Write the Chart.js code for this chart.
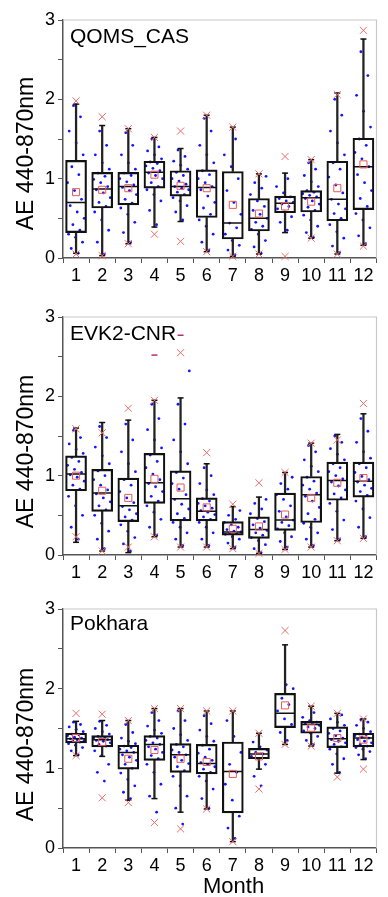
<!DOCTYPE html>
<html>
<head>
<meta charset="utf-8">
<script src="https://cdn.jsdelivr.net/npm/chart.js@4.4.1/dist/chart.umd.min.js"></script>
<style>
  body { margin: 0; background: #fff; font-family: 'Liberation Sans', Arial, sans-serif; }
  #wrap { position: relative; width: 388px; height: 897px; overflow: hidden; }
  canvas { position: absolute; left: 0; }
  .name { position: absolute; left: 70px; font-size: 21px; line-height: 1; color: #000; }
  .ytitle { position: absolute; width: 220px; left: -85px; height: 23px; font-size: 23px; line-height: 1;
            text-align: center; transform: rotate(-90deg); color: #000; }
  .xtitle { position: absolute; left: 203px; top: 875px; font-size: 22px; line-height: 1; color: #000; }
</style>
</head>
<body>
<div id="wrap">
  <canvas id="qoms" width="388" height="290" style="top:0px"></canvas>
  <canvas id="evk" width="388" height="290" style="top:297px"></canvas>
  <canvas id="pok" width="388" height="290" style="top:589px"></canvas>
  <div class="name" style="top:25px">QOMS_CAS</div>
  <div class="name" style="top:322px">EVK2-CNR</div>
  <div class="name" style="top:612px">Pokhara</div>
  <div class="ytitle" style="top:142px">AE 440-870nm</div>
  <div class="ytitle" style="top:440px">AE 440-870nm</div>
  <div class="ytitle" style="top:733px">AE 440-870nm</div>
  <div class="xtitle">Month</div>
</div>
<script>
// --- Data ---
const months = [1, 2, 3, 4, 5, 6, 7, 8, 9, 10, 11, 12];

// QOMS_CAS
const qomsLo   = [0.06, 0.03, 0.18, 0.39, 0.46, 0.08, 0.02, 0.05, 0.32, 0.25, 0.05, 0.16];
const qomsQ1   = [0.32, 0.63, 0.67, 0.88, 0.78, 0.51, 0.24, 0.34, 0.57, 0.58, 0.47, 0.61];
const qomsMed  = [0.70, 0.87, 0.90, 1.08, 0.90, 0.89, 0.44, 0.50, 0.69, 0.76, 0.74, 1.15];
const qomsQ3   = [1.23, 1.08, 1.08, 1.22, 1.10, 1.11, 1.09, 0.75, 0.78, 0.85, 1.22, 1.51];
const qomsHi   = [1.94, 1.67, 1.63, 1.52, 1.38, 1.80, 1.65, 1.06, 1.07, 1.24, 2.08, 2.76];
const qomsMean = [0.83, 0.86, 0.88, 1.05, 0.91, 0.88, 0.67, 0.56, 0.65, 0.71, 0.88, 1.18];
const qomsP1   = [0.05, 0.03, 0.18, 0.30, 0.21, 0.08, 0.02, 0.05, 0.02, 0.25, 0.05, 0.15];
const qomsP99  = [1.98, 1.78, 1.63, 1.52, 1.60, 1.80, 1.65, 1.06, 1.28, 1.24, 2.06, 2.87];
const qomsDots = [
  [0.06, 0.12, 0.2, 0.26, 0.3, 0.35, 0.42, 0.5, 0.58, 0.66, 0.74, 0.85, 0.95, 1.05, 1.15, 1.3, 1.45, 1.6, 1.78, 1.92],
  [0.05, 0.2, 0.35, 0.48, 0.58, 0.65, 0.7, 0.76, 0.82, 0.86, 0.9, 0.95, 0.99, 1.03, 1.07, 1.12, 1.2, 1.3, 1.42, 1.6],
  [0.2, 0.32, 0.45, 0.55, 0.63, 0.69, 0.74, 0.8, 0.85, 0.89, 0.92, 0.96, 1.0, 1.04, 1.07, 1.12, 1.2, 1.3, 1.42, 1.58],
  [0.42, 0.6, 0.72, 0.8, 0.86, 0.9, 0.95, 1.0, 1.04, 1.07, 1.1, 1.13, 1.16, 1.19, 1.21, 1.25, 1.3, 1.35, 1.4, 1.5],
  [0.48, 0.58, 0.66, 0.72, 0.76, 0.8, 0.83, 0.86, 0.88, 0.9, 0.93, 0.97, 1.0, 1.04, 1.08, 1.12, 1.17, 1.22, 1.28, 1.36],
  [0.1, 0.2, 0.3, 0.4, 0.48, 0.55, 0.63, 0.7, 0.78, 0.86, 0.9, 0.95, 1.0, 1.05, 1.1, 1.2, 1.3, 1.42, 1.6, 1.76],
  [0.04, 0.1, 0.16, 0.22, 0.3, 0.38, 0.44, 0.55, 0.7, 0.85, 1.0, 1.15, 1.3, 1.5],
  [0.06, 0.14, 0.22, 0.3, 0.36, 0.4, 0.45, 0.5, 0.55, 0.6, 0.65, 0.72, 0.8, 0.88, 0.95, 1.03],
  [0.35, 0.45, 0.52, 0.58, 0.62, 0.65, 0.68, 0.7, 0.72, 0.75, 0.77, 0.82, 0.9, 1.0],
  [0.26, 0.32, 0.4, 0.48, 0.54, 0.6, 0.64, 0.68, 0.72, 0.75, 0.77, 0.79, 0.81, 0.83, 0.85, 0.9, 0.96, 1.04, 1.12, 1.2],
  [0.07, 0.15, 0.25, 0.33, 0.42, 0.5, 0.56, 0.62, 0.68, 0.74, 0.82, 0.92, 1.02, 1.12, 1.2, 1.3, 1.45, 1.6, 1.8, 2.0],
  [0.18, 0.28, 0.38, 0.48, 0.56, 0.65, 0.75, 0.85, 0.95, 1.05, 1.15, 1.25, 1.33, 1.42, 1.5, 1.65, 1.85, 2.05, 2.3, 2.6]
];

// EVK2-CNR
const evkLo   = [0.16, 0.05, 0.03, 0.23, 0.10, 0.10, 0.08, 0.02, 0.07, 0.10, 0.18, 0.21];
const evkQ1   = [0.81, 0.55, 0.42, 0.65, 0.43, 0.43, 0.25, 0.21, 0.31, 0.41, 0.69, 0.73];
const evkMed  = [1.02, 0.78, 0.62, 0.91, 0.71, 0.55, 0.29, 0.32, 0.44, 0.76, 0.94, 0.93];
const evkQ3   = [1.25, 1.08, 0.97, 1.28, 1.06, 0.72, 0.42, 0.48, 0.78, 0.99, 1.17, 1.17];
const evkHi   = [1.60, 1.67, 1.70, 1.95, 1.98, 1.15, 0.61, 0.73, 1.04, 1.41, 1.52, 1.78];
const evkMean = [1.00, 0.81, 0.72, 0.96, 0.85, 0.60, 0.33, 0.36, 0.51, 0.72, 0.91, 0.97];
const evkP1   = [0.23, 0.05, 0.10, 0.23, 0.10, 0.10, 0.08, 0.02, 0.07, 0.10, 0.18, 0.21];
const evkP99  = [1.59, 1.54, 1.85, 1.95, 2.55, 1.29, 0.64, 0.91, 1.04, 1.41, 1.45, 1.91];
const evkMax  = [null, null, null, 2.52, 2.77, null, null, null, null, null, null, null];
const evkDots = [
  [0.2, 0.35, 0.5, 0.62, 0.74, 0.83, 0.88, 0.93, 0.98, 1.01, 1.04, 1.08, 1.13, 1.18, 1.23, 1.28, 1.33, 1.4, 1.48, 1.57],
  [0.08, 0.2, 0.3, 0.4, 0.5, 0.57, 0.62, 0.67, 0.72, 0.77, 0.82, 0.88, 0.95, 1.0, 1.06, 1.15, 1.25, 1.36, 1.48, 1.62],
  [0.05, 0.14, 0.22, 0.3, 0.38, 0.44, 0.48, 0.52, 0.57, 0.61, 0.66, 0.72, 0.8, 0.88, 0.95, 1.05, 1.15, 1.3, 1.45, 1.65],
  [0.25, 0.35, 0.45, 0.54, 0.62, 0.68, 0.74, 0.8, 0.86, 0.9, 0.95, 1.02, 1.1, 1.18, 1.26, 1.35, 1.45, 1.58, 1.72, 1.9],
  [0.12, 0.2, 0.28, 0.35, 0.41, 0.46, 0.52, 0.58, 0.64, 0.7, 0.76, 0.83, 0.9, 0.97, 1.04, 1.15, 1.3, 1.45, 1.65, 1.9, 2.32],
  [0.12, 0.2, 0.28, 0.35, 0.41, 0.45, 0.48, 0.51, 0.54, 0.56, 0.59, 0.62, 0.65, 0.68, 0.71, 0.76, 0.82, 0.9, 1.0, 1.1],
  [0.1, 0.15, 0.2, 0.23, 0.26, 0.27, 0.28, 0.29, 0.3, 0.32, 0.35, 0.38, 0.41, 0.45, 0.5, 0.56],
  [0.03, 0.08, 0.13, 0.18, 0.22, 0.25, 0.28, 0.31, 0.34, 0.38, 0.42, 0.46, 0.52, 0.58, 0.65, 0.7],
  [0.1, 0.17, 0.23, 0.28, 0.33, 0.37, 0.41, 0.44, 0.48, 0.55, 0.62, 0.7, 0.76, 0.83, 0.9, 0.98],
  [0.12, 0.2, 0.28, 0.35, 0.4, 0.45, 0.52, 0.6, 0.68, 0.74, 0.78, 0.83, 0.88, 0.93, 0.98, 1.05, 1.12, 1.2, 1.3, 1.38],
  [0.2, 0.32, 0.44, 0.55, 0.65, 0.72, 0.77, 0.82, 0.87, 0.92, 0.96, 1.0, 1.05, 1.1, 1.15, 1.2, 1.27, 1.34, 1.42, 1.5],
  [0.23, 0.35, 0.47, 0.58, 0.68, 0.75, 0.8, 0.84, 0.88, 0.92, 0.95, 0.99, 1.04, 1.1, 1.15, 1.22, 1.3, 1.42, 1.56, 1.72]
];

// Pokhara
const pokLo   = [1.16, 1.15, 0.60, 0.62, 0.45, 0.49, 0.08, 0.99, 1.30, 1.28, 0.94, 1.11];
const pokQ1   = [1.32, 1.27, 0.99, 1.10, 0.95, 0.93, 0.44, 1.12, 1.51, 1.44, 1.26, 1.27];
const pokMed  = [1.37, 1.36, 1.20, 1.30, 1.17, 1.06, 0.96, 1.18, 1.69, 1.55, 1.37, 1.38];
const pokQ3   = [1.44, 1.41, 1.29, 1.41, 1.31, 1.30, 1.33, 1.25, 1.94, 1.59, 1.52, 1.44];
const pokHi   = [1.59, 1.60, 1.60, 1.75, 1.75, 1.72, 1.72, 1.44, 2.55, 1.78, 1.69, 1.62];
const pokMean = [1.38, 1.33, 1.12, 1.23, 1.12, 1.08, 0.93, 1.15, 1.79, 1.51, 1.38, 1.36];
const pokP1   = [1.16, 0.63, 0.57, 0.32, 0.24, 0.49, 0.08, 0.74, 1.30, 1.28, 0.89, 0.99];
const pokP99  = [1.69, 1.68, 1.60, 1.75, 1.75, 1.72, 1.72, 1.44, 2.73, 1.78, 1.69, 1.62];
const pokDots = [
  [1.17, 1.22, 1.26, 1.29, 1.31, 1.33, 1.34, 1.35, 1.36, 1.37, 1.38, 1.39, 1.41, 1.42, 1.43, 1.46, 1.49, 1.52, 1.55, 1.58],
  [0.84, 0.95, 1.05, 1.16, 1.22, 1.28, 1.3, 1.32, 1.34, 1.35, 1.36, 1.37, 1.38, 1.39, 1.4, 1.43, 1.46, 1.5, 1.54, 1.59],
  [0.62, 0.7, 0.78, 0.86, 0.94, 1.0, 1.05, 1.1, 1.14, 1.17, 1.2, 1.22, 1.24, 1.26, 1.28, 1.31, 1.34, 1.38, 1.45, 1.55],
  [0.45, 0.65, 0.8, 0.95, 1.05, 1.12, 1.16, 1.2, 1.24, 1.27, 1.3, 1.32, 1.35, 1.38, 1.4, 1.44, 1.48, 1.53, 1.6, 1.7],
  [0.3, 0.5, 0.65, 0.78, 0.9, 0.97, 1.02, 1.06, 1.1, 1.14, 1.17, 1.2, 1.23, 1.27, 1.3, 1.35, 1.42, 1.5, 1.6, 1.72],
  [0.5, 0.62, 0.74, 0.84, 0.9, 0.95, 0.99, 1.02, 1.05, 1.07, 1.1, 1.14, 1.19, 1.24, 1.29, 1.34, 1.4, 1.48, 1.56, 1.66],
  [0.12, 0.25, 0.4, 0.6, 0.8, 0.95, 1.05, 1.2, 1.4, 1.6],
  [0.78, 0.9, 1.05, 1.12, 1.15, 1.18, 1.2, 1.23, 1.27, 1.33],
  [1.35, 1.45, 1.55, 1.62, 1.72, 1.8, 1.88, 2.0, 2.05],
  [1.3, 1.35, 1.4, 1.44, 1.47, 1.5, 1.52, 1.54, 1.56, 1.57, 1.58, 1.6, 1.64, 1.7],
  [0.95, 1.05, 1.12, 1.18, 1.24, 1.27, 1.3, 1.32, 1.34, 1.36, 1.38, 1.41, 1.44, 1.47, 1.5, 1.54, 1.58, 1.62, 1.67],
  [1.12, 1.17, 1.21, 1.24, 1.26, 1.28, 1.3, 1.32, 1.34, 1.36, 1.38, 1.39, 1.41, 1.42, 1.43, 1.46, 1.5, 1.54, 1.58, 1.61]
];

// --- Helpers ---
const FONT = "'Liberation Sans', Arial, sans-serif";

const pts = arr => months.map((m, i) => ({ x: m, y: arr[i] }));
const span = (a, b) => months.map((m, i) => ({ x: m, y: [a[i], b[i]] }));

// spread dots sideways over the box width (golden-ratio sequence, no randomness)
const jitter = j => ((((j + 1) * 0.618034) % 1) - 0.5) * 0.7;

// light grey top/right frame like the original
const framePlugin = {
  id: 'frame',
  afterDraw(chart) {
    const { ctx, chartArea: a } = chart;
    ctx.save();
    ctx.strokeStyle = '#c8c8c8';
    ctx.lineWidth = 1.2;
    ctx.beginPath();
    ctx.moveTo(a.left, a.top);
    ctx.lineTo(a.right, a.top);
    ctx.lineTo(a.right, a.bottom);
    ctx.stroke();
    ctx.restore();
  }
};

function makePanel(id, s, xHeight) {
  const dots = s.dots.flatMap((vals, i) => vals.map((v, j) => ({ x: months[i] + jitter(j), y: v })));

  const datasets = [
    { type: 'scatter', data: pts(s.p1).concat(pts(s.p99)), pointStyle: 'crossRot', radius: 5,
      borderColor: '#ee6a6a', borderWidth: 1, clip: false },
    { type: 'scatter', data: pts(s.mean), pointStyle: 'rect', radius: 5,
      borderColor: '#e65a5a', backgroundColor: 'rgba(0,0,0,0)', borderWidth: 1 },
    { type: 'scatter', data: s.max ? pts(s.max).filter(p => p.y != null) : [], pointStyle: 'line', radius: 3,
      borderColor: '#b0306a', borderWidth: 1.5, clip: false },
    { type: 'scatter', data: pts(s.med), pointStyle: 'line', radius: 10,
      borderColor: '#111', borderWidth: 1.5 },
    { type: 'scatter', data: pts(s.lo).concat(pts(s.hi)), pointStyle: 'line', radius: 3,
      borderColor: '#111', borderWidth: 1.5, clip: false },
    { type: 'bar', data: span(s.q1, s.q3), barThickness: 21, grouped: false,
      backgroundColor: 'rgba(0,0,0,0)', borderColor: '#111', borderWidth: 1.5, borderSkipped: false },
    { type: 'bar', data: span(s.lo, s.q1), barThickness: 1.6, grouped: false, backgroundColor: '#222' },
    { type: 'bar', data: span(s.q3, s.hi), barThickness: 1.6, grouped: false, backgroundColor: '#222' },
    { type: 'scatter', data: dots, pointStyle: 'circle', radius: 1.4,
      backgroundColor: '#1414ff', borderColor: '#1414ff', borderWidth: 0 }
  ];

  return new Chart(document.getElementById(id), {
    type: 'bar',
    data: { datasets },
    options: {
      responsive: false,
      animation: false,
      layout: { padding: { top: 20, right: 1, left: 0, bottom: 0 } },
      plugins: { legend: { display: false }, tooltip: { enabled: false } },
      scales: {
        x: {
          type: 'linear',
          min: 0.5,
          max: 12.5,
          offset: false,
          afterBuildTicks: sc => { sc.ticks = months.map(v => ({ value: v })); },
          afterFit: sc => { sc.height = xHeight; },
          ticks: { color: '#000', font: { family: FONT, size: 18 }, padding: 2, autoSkip: false, maxRotation: 0 },
          grid: { drawOnChartArea: false, drawTicks: true, tickLength: 5, tickColor: '#555' },
          border: { color: '#555', width: 1.5 }
        },
        y: {
          min: 0,
          max: 3,
          afterFit: sc => { sc.width = 63; },
          ticks: {
            stepSize: 0.5,
            color: '#000',
            font: { family: FONT, size: 18 },
            padding: 3,
            callback: v => (Number.isInteger(v) ? v : '')
          },
          grid: { drawOnChartArea: false, drawTicks: true, tickLength: 5, tickColor: '#555' },
          border: { color: '#555', width: 1.5 }
        }
      }
    },
    plugins: [framePlugin]
  });
}

makePanel('qoms', { lo: qomsLo, q1: qomsQ1, med: qomsMed, q3: qomsQ3, hi: qomsHi, mean: qomsMean,
  p1: qomsP1, p99: qomsP99, dots: qomsDots }, 32);
makePanel('evk', { lo: evkLo, q1: evkQ1, med: evkMed, q3: evkQ3, hi: evkHi, mean: evkMean,
  p1: evkP1, p99: evkP99, max: evkMax, dots: evkDots }, 32);
makePanel('pok', { lo: pokLo, q1: pokQ1, med: pokMed, q3: pokQ3, hi: pokHi, mean: pokMean,
  p1: pokP1, p99: pokP99, dots: pokDots }, 31);
</script>
</body>
</html>
